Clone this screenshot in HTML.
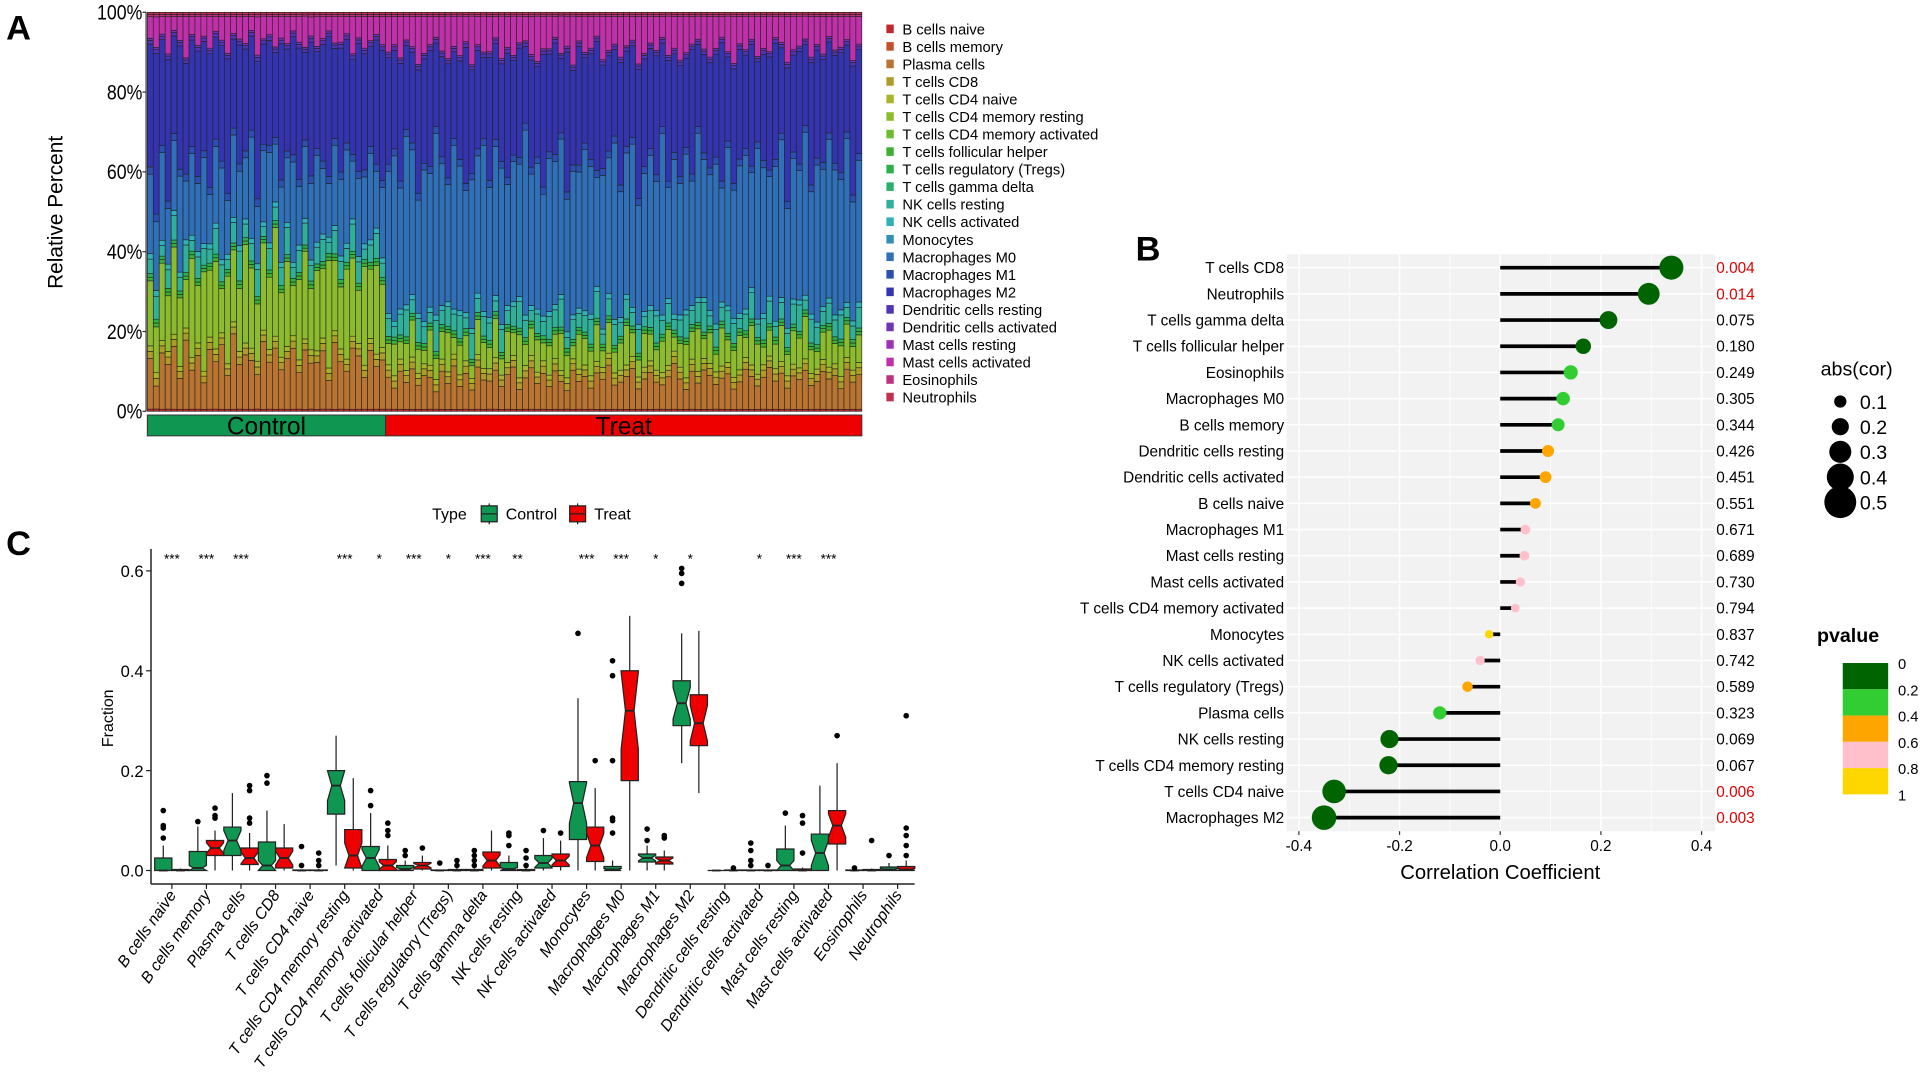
<!DOCTYPE html>
<html><head><meta charset="utf-8"><style>
html,body{margin:0;padding:0;background:#fff;}
svg{display:block;font-family:"Liberation Sans",Arial,sans-serif;}
</style></head><body>
<svg id="fig" width="1925" height="1078" viewBox="0 0 1568 878" preserveAspectRatio="none" xmlns="http://www.w3.org/2000/svg">
<g id="pa"></g>
<g id="pb"></g>
<g id="pc"></g>
</svg>
<script>
// ---------- Panel A data ----------
const cellTypes=["B cells naive","B cells memory","Plasma cells","T cells CD8","T cells CD4 naive","T cells CD4 memory resting","T cells CD4 memory activated","T cells follicular helper","T cells regulatory (Tregs)","T cells gamma delta","NK cells resting","NK cells activated","Monocytes","Macrophages M0","Macrophages M1","Macrophages M2","Dendritic cells resting","Dendritic cells activated","Mast cells resting","Mast cells activated","Eosinophils","Neutrophils"];
const cellColors=["#c0282c","#c4502a","#b87430","#b09a2a","#a8b42a","#8cbc2e","#6cbc30","#3cb030","#2cb04a","#2cb070","#30b09a","#30b0b8","#3090b8","#3070b8","#2c50b0","#3434b0","#5034b8","#7034b8","#9c30b8","#c030a8","#c03080","#c03050"];
const nControl=40;
const oraVals=[14,6,16,12,18,9,20,11,15,8,17,13,19,10,22,12,16,14,9,21,13,18,11,15,17,10,19,12,14,16,8,20,13,11,18,15,9,17,12,14,
9,6,11,8,12,7,10,9,5,11,8,13,7,10,6,12,9,8,11,7,10,13,6,9,12,8,10,7,11,9,5,12,8,10,6,11,9,13,7,8,10,12,6,9,11,8,7,10,13,9,6,11,8,12,10,7,9,11,6,8,12,10,7,9,13,8,11,6,10,9,12,7,8,11,9,10,6,12,8,10];
const grnVals=[18,12,22,15,25,20,14,28,16,30,19,24,13,26,21,17,29,23,15,27,20,32,18,25,14,22,28,16,24,19,30,21,17,26,23,15,28,20,25,18,
6,9,5,8,11,7,4,10,6,8,12,5,9,7,4,10,8,6,11,5,9,7,13,6,8,10,5,9,7,12,6,4,10,8,7,11,5,9,6,8,12,7,5,10,8,6,9,11,4,7,10,8,13,6,9,5,11,7,8,10,6,12,9,5,8,7,11,6,10,9,13,7,5,8,11,6,9,10,7,8];
const tealVals=[4,6,3,5,7,4,8,3,6,5,4,7,5,3,6,8,4,5,7,3,6,4,5,8,3,6,7,4,5,6,3,7,5,4,8,6,3,5,7,4,
5,3,6,8,4,7,5,3,9,4,6,5,7,3,8,4,6,5,3,7,4,6,8,5,3,6,4,7,5,9,3,6,4,5,7,8,3,5,6,4,
6,4,7,3,5,8,4,6,3,5,7,4,6,9,3,5,4,7,6,3,5,8,4,6,7,3,5,4,6,8,3,7,5,4,6,5,7,3,4,6];
const bluVals=[22,18,25,15,20,28,17,23,19,26,14,21,27,16,24,20,18,29,15,22,25,17,21,19,28,16,23,20,26,18,15,24,21,27,17,22,19,25,16,20,
40,47,35,50,43,33,45,38,52,41,36,49,44,34,46,39,51,37,42,48,35,43,40,53,38,45,34,47,41,50,36,44,39,49,42,33,46,40,51,37,43,48,35,41,45,38,52,34,44,39,47,36,50,42,40,45,33,49,38,43,46,35,51,41,37,44,48,34,42,39,50,36,45,40,47,43,38,49,35,41];
const indVals=[34,42,30,38,28,36,32,30,35,33,38,28,34,40,26,32,30,27,36,31,29,25,38,30,33,36,28,35,29,32,39,27,34,30,28,36,33,29,35,37,
30,28,34,25,27,36,31,33,24,29,35,26,30,38,32,28,25,35,27,30,36,29,33,22,31,28,37,30,32,24,38,29,34,26,30,39,31,28,25,36,29,27,38,32,30,35,24,37,28,33,27,36,25,30,31,29,40,26,34,32,28,37,24,30,35,33,26,38,29,34,25,36,31,30,27,32,35,26,38,30];
const magVals=[6,8,5,10,4,7,12,5,8,6,9,4,7,11,5,6,8,4,10,7,5,9,6,8,4,7,10,5,9,6,4,8,7,5,11,6,9,7,5,8,
10,8,12,7,9,14,11,8,6,10,13,9,12,7,15,8,11,10,6,13,9,12,8,7,11,14,9,10,6,12,8,15,7,11,9,6,13,10,8,12,9,7,14,11,8,10,6,12,9,13,11,8,7,10,12,9,6,11,14,8,10,7,12,9,11,6,8,13,10,9,7,12,8,11,6,10,9,7,13,8];
const minorVals=[0.6,0,0,2,1.5,0,0,1,1,0,0,1.5,0,0,2,0,1,0.6,0,0,0.6,0.6];
const yTicksA=["0%","20%","40%","60%","80%","100%"];

// ---------- Panel B data ----------
const corNames=["T cells CD8","Neutrophils","T cells gamma delta","T cells follicular helper","Eosinophils","Macrophages M0","B cells memory","Dendritic cells resting","Dendritic cells activated","B cells naive","Macrophages M1","Mast cells resting","Mast cells activated","T cells CD4 memory activated","Monocytes","NK cells activated","T cells regulatory (Tregs)","Plasma cells","NK cells resting","T cells CD4 memory resting","T cells CD4 naive","Macrophages M2"];
const corVals=[0.34,0.295,0.215,0.165,0.14,0.125,0.115,0.095,0.09,0.07,0.05,0.048,0.04,0.03,-0.022,-0.04,-0.065,-0.12,-0.22,-0.222,-0.33,-0.35];
const corP=[0.004,0.014,0.075,0.180,0.249,0.305,0.344,0.426,0.451,0.551,0.671,0.689,0.730,0.794,0.837,0.742,0.589,0.323,0.069,0.067,0.006,0.003];
const corTicks=[-0.4,-0.2,0.0,0.2,0.4];
const sizeLegend=[0.1,0.2,0.3,0.4,0.5];
const pLegend=["0","0.2","0.4","0.6","0.8","1"];

// ---------- Panel C data ----------
const boxCats=cellTypes;
const cQ1=[0,0,0.03,0,0,0.113,0,0,0,0,0,0.005,0.062,0,0.017,0.29,0,0,0,0,0,0];
const cMed=[0,0.005,0.06,0.01,0,0.17,0.025,0.003,0,0,0.003,0.015,0.135,0.002,0.025,0.335,0,0,0.01,0.035,0,0.002];
const cQ3=[0.025,0.038,0.087,0.057,0.001,0.2,0.048,0.01,0.001,0.002,0.016,0.03,0.178,0.008,0.033,0.38,0,0.001,0.043,0.073,0.001,0.007];
const cLo=[0,0,0,0,0,0.01,0,0,0,0,0,0,0,0,0,0.215,0,0,0,0,0,0];
const cHi=[0.05,0.088,0.155,0.12,0.002,0.27,0.115,0.02,0.002,0.004,0.03,0.065,0.345,0.02,0.05,0.475,0,0.002,0.09,0.17,0.002,0.015];
const cOut=[[0.065,0.085,0.09,0.12],[0.098],[],[0.175,0.19],[0.01,0.048],[],[0.13,0.16],[0.03,0.04],[0.015],[0.01,0.02,0.03,0.04],[0.05,0.07,0.075],[0.08],[0.475],[0.075,0.1,0.105,0.22,0.39,0.42],[0.06,0.083],[0.575,0.595,0.605],[],[0.01,0.02,0.04,0.055],[0.115],[],[0.005],[0.03]];
const tQ1=[0,0.03,0.012,0.005,0,0.005,0,0.003,0,0.005,0,0.008,0.018,0.18,0.013,0.25,0,0,0,0.053,0,0];
const tMed=[0,0.045,0.025,0.025,0,0.03,0.01,0.01,0,0.02,0,0.02,0.05,0.32,0.02,0.295,0,0,0,0.09,0,0.002];
const tQ3=[0.002,0.06,0.045,0.045,0.001,0.082,0.022,0.016,0.002,0.037,0.002,0.033,0.087,0.4,0.027,0.352,0.001,0.001,0.003,0.12,0.002,0.008];
const tLo=[0,0,0,0,0,0,0,0,0,0,0,0,0,0,0,0.155,0,0,0,0,0,0];
const tHi=[0.004,0.08,0.075,0.093,0.003,0.185,0.05,0.03,0.004,0.08,0.004,0.06,0.165,0.51,0.04,0.48,0.002,0.002,0.006,0.215,0.004,0.02];
const tOut=[[],[0.105,0.11,0.125],[0.095,0.105,0.16,0.17],[],[0.01,0.02,0.035],[],[0.07,0.08,0.095],[0.045],[0.01,0.02],[],[0.01,0.025,0.04],[0.075],[0.22],[],[0.065,0.07],[],[0.005],[0.01],[0.035,0.095,0.11],[0.27],[0.06],[0.03,0.05,0.07,0.085,0.31]];
const sigLabels=["***","***","***","","","***","*","***","*","***","**","","***","***","*","*","","*","***","***","",""];
const yTicksC=[0.0,0.2,0.4,0.6];

const NS="http://www.w3.org/2000/svg";
function mk(tag,parent,attrs,text){const e=document.createElementNS(NS,tag);for(const k in attrs)e.setAttribute(k,attrs[k]);if(text!==undefined)e.textContent=text;parent.appendChild(e);return e;}

// ================= PANEL A =================
(function(){
const g=document.getElementById('pa');
const L=120,R=702,T=10,B=335;
const n=oraVals.length,bw=(R-L)/n;
const yA=v=>B-(v/100)*(B-T);
let t=mk('text',g,{x:5,y:32,'font-size':28,'font-weight':'bold'},'A');

const major={2:oraVals,5:grnVals,10:tealVals,13:bluVals,15:indVals,19:magVals};
for(let i=0;i<n;i++){
  const vals=cellTypes.map((c,k)=>major[k]?major[k][i]:minorVals[k]);
  const tot=vals.reduce((a,b)=>a+b,0);
  let acc=0;
  for(let k=0;k<vals.length;k++){
    if(vals[k]<=0)continue;
    const y0=yA(acc/tot*100),y1=yA((acc+vals[k])/tot*100);
    const r=mk('rect',g,{x:L+i*bw,y:y1,width:bw,height:y0-y1,fill:cellColors[k],stroke:'#222','stroke-width':0.5});
    
    
    acc+=vals[k];
  }
}
mk('line',g,{x1:L-1,y1:T,x2:L-1,y2:B,stroke:'#333','stroke-width':1});
yTicksA.forEach((lab,i)=>{const y=yA(i*20);
  mk('line',g,{x1:L-4,y1:y,x2:L-1,y2:y,stroke:'#333'});
  const tt=mk('text',g,{x:L-4,y:y+6,'font-size':17,'text-anchor':'end',transform:`translate(${L-4},0) scale(0.85,1) translate(${-(L-4)},0)`},lab);
  });
t=mk('text',g,{x:0,y:0,'font-size':17,'text-anchor':'middle',transform:'translate(51,173) rotate(-90)'},'Relative Percent');

const cx=L+nControl*bw;
let r=mk('rect',g,{x:L,y:338,width:cx-L,height:17,fill:'#0f9650',stroke:'#333','stroke-width':0.8});

r=mk('rect',g,{x:cx,y:338,width:R-cx,height:17,fill:'#ee0000',stroke:'#333','stroke-width':0.8});

t=mk('text',g,{x:(L+cx)/2,y:354,'font-size':20,'text-anchor':'middle'},'Control');

t=mk('text',g,{x:(cx+R)/2,y:354,'font-size':20,'text-anchor':'middle'},'Treat');

cellTypes.forEach((c,k)=>{const y=24+k*14.28;
  const lg=mk('g',g,{});
  
  mk('rect',lg,{x:722,y:y-4,width:6,height:7,fill:cellColors[k]});
  mk('text',lg,{x:735,y:y+4,'font-size':12},c);});
})();

// ================= PANEL B =================
(function(){
const g=document.getElementById('pb');
const PL=1048,PR=1397,PT=207,PB=677;
const xB=v=>1222+v*410;
const rowY=i=>218+i*21.33;
let t=mk('text',g,{x:925,y:212,'font-size':28,'font-weight':'bold'},'B');

mk('rect',g,{x:PL,y:PT,width:PR-PL,height:PB-PT,fill:'#f2f2f2'});
[-0.3,-0.1,0.1,0.3].forEach(v=>mk('line',g,{x1:xB(v),y1:PT,x2:xB(v),y2:PB,stroke:'#fff','stroke-width':0.6}));
corTicks.forEach(v=>mk('line',g,{x1:xB(v),y1:PT,x2:xB(v),y2:PB,stroke:'#fff','stroke-width':1.2}));
corNames.forEach((n,i)=>mk('line',g,{x1:PL,y1:rowY(i),x2:PR,y2:rowY(i),stroke:'#fff','stroke-width':1.2}));
const pcol=p=>p<0.2?'#006400':p<0.4?'#32cd32':p<0.6?'#ffa500':p<0.8?'#ffc0cb':'#ffd700';
corNames.forEach((n,i)=>{const y=rowY(i);
  const gg=mk('g',g,{});
  
  mk('line',gg,{x1:xB(0),y1:y,x2:xB(corVals[i]),y2:y,stroke:'#000','stroke-width':3});
  mk('circle',gg,{cx:xB(corVals[i]),cy:y,r:3+Math.abs(corVals[i])*20,fill:pcol(corP[i])});
  const lt=mk('text',g,{x:PL-2,y:y+4.5,'font-size':12.5,'text-anchor':'end'},n);
  
  const pt=mk('text',g,{x:1398,y:y+4.5,'font-size':12.5,fill:corP[i]<0.05?'#e00000':'#000'},corP[i].toFixed(3));
  
});
corTicks.forEach(v=>{mk('line',g,{x1:xB(v),y1:PB,x2:xB(v),y2:PB+3,stroke:'#333'});
  const tt=mk('text',g,{x:xB(v),y:PB+16,'font-size':12.5,'text-anchor':'middle'},v.toFixed(1));
  });
t=mk('text',g,{x:1222,y:716,'font-size':16.5,'text-anchor':'middle'},'Correlation Coefficient');

t=mk('text',g,{x:1483,y:306,'font-size':16},'abs(cor)');

sizeLegend.forEach((v,i)=>{const y=327+i*20.5;
  const gg=mk('g',g,{});
  mk('circle',gg,{cx:1499,cy:y,r:3+v*20,fill:'#000'});
  mk('text',gg,{x:1515,y:y+6,'font-size':16},String(v));});
t=mk('text',g,{x:1480,y:523,'font-size':16,'font-weight':'bold'},'pvalue');

const pc=['#006400','#32cd32','#ffa500','#ffc0cb','#ffd700'];
pc.forEach((c,i)=>{const r=mk('rect',g,{x:1501,y:540+i*21.4,width:37,height:21.4,fill:c});
  });
pLegend.forEach((l,i)=>{const tt=mk('text',g,{x:1546,y:545+i*21.4,'font-size':12},l);
  });
})();

// ================= PANEL C =================
(function(){
const g=document.getElementById('pc');
const y0=709,ppu=406.7;
const yC=v=>y0-v*ppu;
const xC=i=>140+i*28.15;
let t=mk('text',g,{x:5,y:452,'font-size':28,'font-weight':'bold'},'C');

const lg=mk('g',g,{});
mk('text',lg,{x:352,y:423,'font-size':13},'Type');
[['#0f9650','Control',392],['#ee0000','Treat',464]].forEach(([c,l,x])=>{
  mk('line',lg,{x1:x+6.5,y1:410,x2:x+6.5,y2:427,stroke:'#222'});
  mk('rect',lg,{x:x,y:412,width:13,height:13,fill:c,stroke:'#222'});
  mk('line',lg,{x1:x,y1:418.5,x2:x+13,y2:418.5,stroke:'#222'});
  mk('text',lg,{x:x+20,y:423,'font-size':13},l);});
mk('line',g,{x1:123,y1:447,x2:123,y2:720,stroke:'#222','stroke-width':1.2});
mk('line',g,{x1:123,y1:720,x2:745,y2:720,stroke:'#222','stroke-width':1.2});
yTicksC.forEach(v=>{mk('line',g,{x1:119,y1:yC(v),x2:123,y2:yC(v),stroke:'#222'});
  const tt=mk('text',g,{x:117,y:yC(v)+5,'font-size':13.5,'text-anchor':'end'},v.toFixed(1));
  });
t=mk('text',g,{x:0,y:0,'font-size':13,'text-anchor':'middle',transform:'translate(92,585) rotate(-90)'},'Fraction');

function box(cx,q1,md,q3,lo,hi,outs,col,name){
  const gg=mk('g',g,{});
  
  
  const w=14,L=cx-w/2,R=cx+w/2;
  mk('line',gg,{x1:cx,y1:yC(lo),x2:cx,y2:yC(q1),stroke:'#222','stroke-width':1});
  mk('line',gg,{x1:cx,y1:yC(q3),x2:cx,y2:yC(hi),stroke:'#222','stroke-width':1});
  const nh=Math.min((q3-q1)*0.35,md-q1,q3-md);
  const ins=w*0.25;
  const pts=[[L,q1],[R,q1],[R,md-nh],[R-ins,md],[R,md+nh],[R,q3],[L,q3],[L,md+nh],[L+ins,md],[L,md-nh]].map(p=>p[0]+','+yC(p[1])).join(' ');
  mk('polygon',gg,{points:pts,fill:col,stroke:'#222','stroke-width':1});
  mk('line',gg,{x1:L+ins,y1:yC(md),x2:R-ins,y2:yC(md),stroke:'#222','stroke-width':1.5});
  outs.forEach(o=>mk('circle',gg,{cx:cx,cy:yC(o),r:2.3,fill:'#000'}));
}
boxCats.forEach((c,i)=>{
  const x=xC(i);
  box(x-7,cQ1[i],cMed[i],cQ3[i],cLo[i],cHi[i],cOut[i],'#0f9650','control-box');
  box(x+7,tQ1[i],tMed[i],tQ3[i],tLo[i],tHi[i],tOut[i],'#ee0000','treat-box');
  mk('line',g,{x1:x,y1:720,x2:x,y2:724,stroke:'#222'});
  const tt=mk('text',g,{x:0,y:0,'font-size':13,'font-style':'italic','text-anchor':'end',transform:`translate(${x+4},${729}) rotate(-55)`},c);
  
  if(sigLabels[i]){const s=mk('text',g,{x:x,y:459,'font-size':11,'text-anchor':'middle'},sigLabels[i]);
    }
});
})();
</script>
</body></html>
